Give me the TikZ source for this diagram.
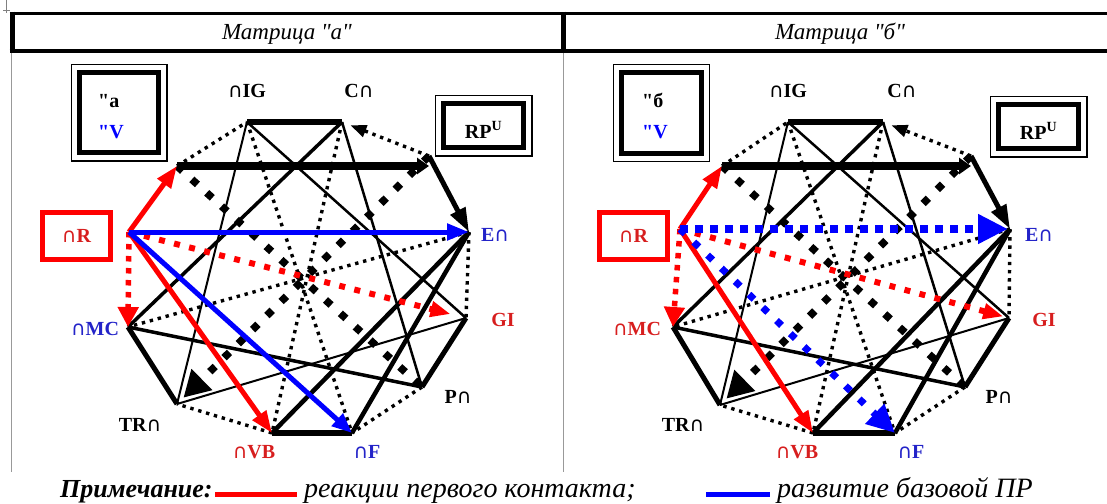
\documentclass[tikz,border=0pt]{standalone}
\usepackage{fontspec}
\setmainfont{Liberation Serif}
% same family without TeX ligatures, so that " stays a straight quote
\newfontfamily\rawserif{Liberation Serif}
\newfontfamily\capfont{DejaVu Sans}
\usetikzlibrary{arrows.meta}

\definecolor{lblred}{RGB}{215,30,30}
\definecolor{lblblue}{RGB}{35,35,200}

\newcommand\capsym{{\capfont\mdseries\fontsize{20}{20}\selectfont ∩}}

\tikzset{
  finedots/.style={line width=3.4pt, dash pattern=on 3.4pt off 4.8pt},
  bigdots/.style={line width=7.5pt, dash pattern=on 7.5pt off 12.5pt},
  lbl/.style={inner sep=0pt, font=\rawserif\fontsize{20}{22}\selectfont\bfseries},
  framebox/.style={draw, line width=5pt, inner sep=0pt},
  legendtxt/.style={inner sep=0pt, anchor=base west, font=\fontsize{28}{30}\selectfont\itshape},
  swatch/.style={inner sep=0pt, minimum height=5pt, minimum width=82pt, anchor=west},
  headtxt/.style={inner sep=0pt, anchor=base, font=\rawserif\fontsize{23}{26}\selectfont\itshape}
}

% black skeleton of one twelve-point diagram; #1 is the name prefix
\newcommand\skeleton[1]{%
  \draw[line width=2pt] (#1IG) -- (#1TR);
  \draw[line width=2.5pt] (#1IG) -- (#1GI);
  \draw[line width=2.5pt] (#1C) -- (#1P);
  \draw[line width=2pt] (#1GI) -- (#1TR);
  \draw[line width=3.5pt] (#1C) -- (#1MC);
  \draw[line width=3.5pt] (#1P) -- (#1MC);
  \draw[line width=4.5pt] (#1E) -- (#1VB);
  \draw[line width=4.5pt] (#1E) -- (#1F);
  \draw[finedots] (#1A) -- (#1IG);
  \draw[finedots] (#1E) -- (#1GI);
  \draw[finedots] (#1P) -- (#1F);
  \draw[finedots] (#1VB) -- (#1TR);
  \draw[finedots] (#1E) -- (#1MC);
  \draw[finedots] (#1IG) -- (#1F);
  \draw[finedots] (#1C) -- (#1VB);
  \draw[finedots, -{Triangle[length=16pt,width=12pt]}, shorten >=9pt] (#1B) -- (#1C);
  \draw[bigdots] (#1A) -- (#1P);
  \draw[bigdots, -{Triangle[length=26pt,width=28pt]}, shorten >=9pt] (#1B) -- (#1TR);
  \draw[line width=6pt] (#1IG) -- (#1C);
  \draw[line width=5pt] (#1GI) -- (#1P);
  \draw[line width=6pt] (#1F) -- (#1VB);
  \draw[line width=5pt] (#1TR) -- (#1MC);
  \draw[line width=8pt, -{Triangle[length=12pt,width=16pt]}] (#1A) -- (#1A -| #1B);
  \draw[line width=5pt, -{Triangle[length=24pt,width=16pt]}] (#1B) -- (#1E);
}

\begin{document}
\begin{tikzpicture}[x=1pt,y=-1pt]
\useasboundingbox (0,0) rectangle (1107,503);

% table header
\draw[line width=0.8pt, gray] (6,0) -- (6,13) (3,10) -- (10,10);
\draw[line width=3.5pt] (9.5,13.5) -- (1107,13.5);
\draw[line width=4pt] (9.5,51) -- (1107,51);
\draw[line width=5pt] (12,11.75) -- (12,53);
\draw[line width=5pt] (563.5,11.75) -- (563.5,53);
\draw[line width=0.9pt, gray!80] (11,53) -- (11,472);
\draw[line width=0.9pt, gray!80] (563.5,53) -- (563.5,472);
\node[headtxt] (heada) at (287,39.5) {Матрица "а"};
\node[headtxt] (headb) at (840,39.5) {Матрица "б"};

% ---------- left diagram ----------
\coordinate (aIG) at (247,122);
\coordinate (aC)  at (342,122);
\coordinate (aB)  at (429,156);
\coordinate (aE)  at (469,232);
\coordinate (aGI) at (466,318);
\coordinate (aP)  at (422,387);
\coordinate (aF)  at (352,433);
\coordinate (aVB) at (272,433);
\coordinate (aTR) at (177,404);
\coordinate (aMC) at (128,327);
\coordinate (aR)  at (129,232);
\coordinate (aA)  at (177,166);

\skeleton{a}

\draw[red, line width=5.5pt, dash pattern=on 5.5pt off 6.5pt, -{Triangle[length=20pt,width=20pt]}] (aR) -- (aMC);
\draw[red, line width=6pt, dash pattern=on 6pt off 9.5pt, -{Triangle[length=20pt,width=15pt]}, shorten >=16pt] (aR) -- (aGI);
\draw[red, line width=5pt, -{Triangle[length=22pt,width=16pt]}] (aR) -- (aA);
\draw[red, line width=5pt, -{Triangle[length=22pt,width=16pt]}] (aR) -- (aVB);
\draw[blue, line width=5pt, -{Triangle[length=22pt,width=16pt]}] (aR) -- (aE);
\draw[blue, line width=5pt, -{Triangle[length=20pt,width=16pt]}] (aR) -- (aF);

\node[lbl] (aLIG) at (247,91) {\capsym IG};
\node[lbl] (aLC)  at (359,91) {C\capsym};
\node[lbl, text=lblblue] (aLE) at (495,235) {E\capsym};
\node[lbl, text=lblred] (aLGI) at (503,320) {GI};
\node[lbl] (aLP)  at (458,397) {P\capsym};
\node[lbl, text=lblblue] (aLF) at (367,452) {\capsym F};
\node[lbl, text=lblred] (aLVB) at (254,452) {\capsym VB};
\node[lbl] (aLTR) at (140,425) {TR\capsym};
\node[lbl, text=lblblue] (aLMC) at (95,329) {\capsym MC};

\node[draw=red, line width=5pt, minimum width=68pt, minimum height=47pt, lbl, text=lblred] (aRbox) at (76.5,236) {\capsym R};

\node[framebox, minimum width=79.6pt, minimum height=80.6pt] (aKey) at (119,112.5) {};
\draw[line width=1.2pt] ([shift={(-5.6,-5.6)}]aKey.north west) rectangle ([shift={(5.6,5.6)}]aKey.south east);
\node[lbl, anchor=base west] (aKey1) at (98,107) {"а};
\node[lbl, anchor=base west, text=blue] (aKey2) at (98,138) {"V};

\node[framebox, minimum width=80.6pt, minimum height=44.6pt] (aRP) at (483.5,125.5) {};
\draw[line width=1.2pt] ([shift={(-5.6,-5.6)}]aRP.north west) rectangle ([shift={(5.6,5.6)}]aRP.south east);
\node[lbl, anchor=base] (aRPt) at (483.5,138) {RP\textsuperscript{U}};

% ---------- right diagram ----------
\coordinate (bIG) at (788,122);
\coordinate (bC)  at (883,122);
\coordinate (bB)  at (971,156);
\coordinate (bE)  at (1010,229);
\coordinate (bGI) at (1009,318);
\coordinate (bP)  at (965,387);
\coordinate (bF)  at (895,433);
\coordinate (bVB) at (813,433);
\coordinate (bTR) at (720,405);
\coordinate (bMC) at (673,327);
\coordinate (bR)  at (680,229);
\coordinate (bA)  at (722,166);

\skeleton{b}

\draw[red, line width=5.5pt, dash pattern=on 5.5pt off 6.5pt, -{Triangle[length=20pt,width=20pt]}] (bR) -- (bMC);
\draw[red, line width=6pt, dash pattern=on 6pt off 9.5pt, -{Triangle[length=20pt,width=15pt]}, shorten >=6pt] (bR) -- (bGI);
\draw[red, line width=5pt, -{Triangle[length=22pt,width=16pt]}] (bR) -- (bA);
\draw[red, line width=5pt, -{Triangle[length=22pt,width=16pt]}] (bR) -- (bVB);
\draw[blue, line width=8pt, dash pattern=on 8pt off 7pt, -{Triangle[length=30pt,width=28pt]}, shorten >=2pt] (bR) -- (bE);
\draw[blue, line width=7pt, dash pattern=on 7pt off 12pt, -{Triangle[length=28pt,width=26pt]}] (bR) -- (bF);

\node[lbl] (bLIG) at (788,91) {\capsym IG};
\node[lbl] (bLC)  at (902,91) {C\capsym};
\node[lbl, text=lblblue] (bLE) at (1039,235) {E\capsym};
\node[lbl, text=lblred] (bLGI) at (1044,320) {GI};
\node[lbl] (bLP)  at (999,397) {P\capsym};
\node[lbl, text=lblblue] (bLF) at (911,452) {\capsym F};
\node[lbl, text=lblred] (bLVB) at (797,452) {\capsym VB};
\node[lbl] (bLTR) at (683,425) {TR\capsym};
\node[lbl, text=lblred] (bLMC) at (637,329) {\capsym MC};

\node[draw=red, line width=5pt, minimum width=68pt, minimum height=47pt, lbl, text=lblred] (bRbox) at (633.5,236) {\capsym R};

\node[framebox, minimum width=79.6pt, minimum height=80.6pt] (bKey) at (661.5,113) {};
\draw[line width=1.2pt] ([shift={(-5.6,-5.6)}]bKey.north west) rectangle ([shift={(5.6,5.6)}]bKey.south east);
\node[lbl, anchor=base west] (bKey1) at (642,107) {"б};
\node[lbl, anchor=base west, text=blue] (bKey2) at (642,138) {"V};

\node[framebox, minimum width=80.6pt, minimum height=44.6pt] (bRP) at (1038.5,126.5) {};
\draw[line width=1.2pt] ([shift={(-5.6,-5.6)}]bRP.north west) rectangle ([shift={(5.6,5.6)}]bRP.south east);
\node[lbl, anchor=base] (bRPt) at (1038.5,139) {RP\textsuperscript{U}};

% ---------- legend ----------
\node[legendtxt, font=\fontsize{26}{28}\selectfont\bfseries\itshape] (note) at (60,497) {\underline{Примечание:}};
\node[swatch, fill=red] (swred) at (215,494.5) {};
\node[legendtxt] (txtred) at (304,497) {реакции первого контакта;};
\node[swatch, fill=blue, minimum width=64pt] (swblue) at (706,494.5) {};
\node[legendtxt] (txtblue) at (777,497) {развитие базовой ПР};
\end{tikzpicture}
\end{document}
